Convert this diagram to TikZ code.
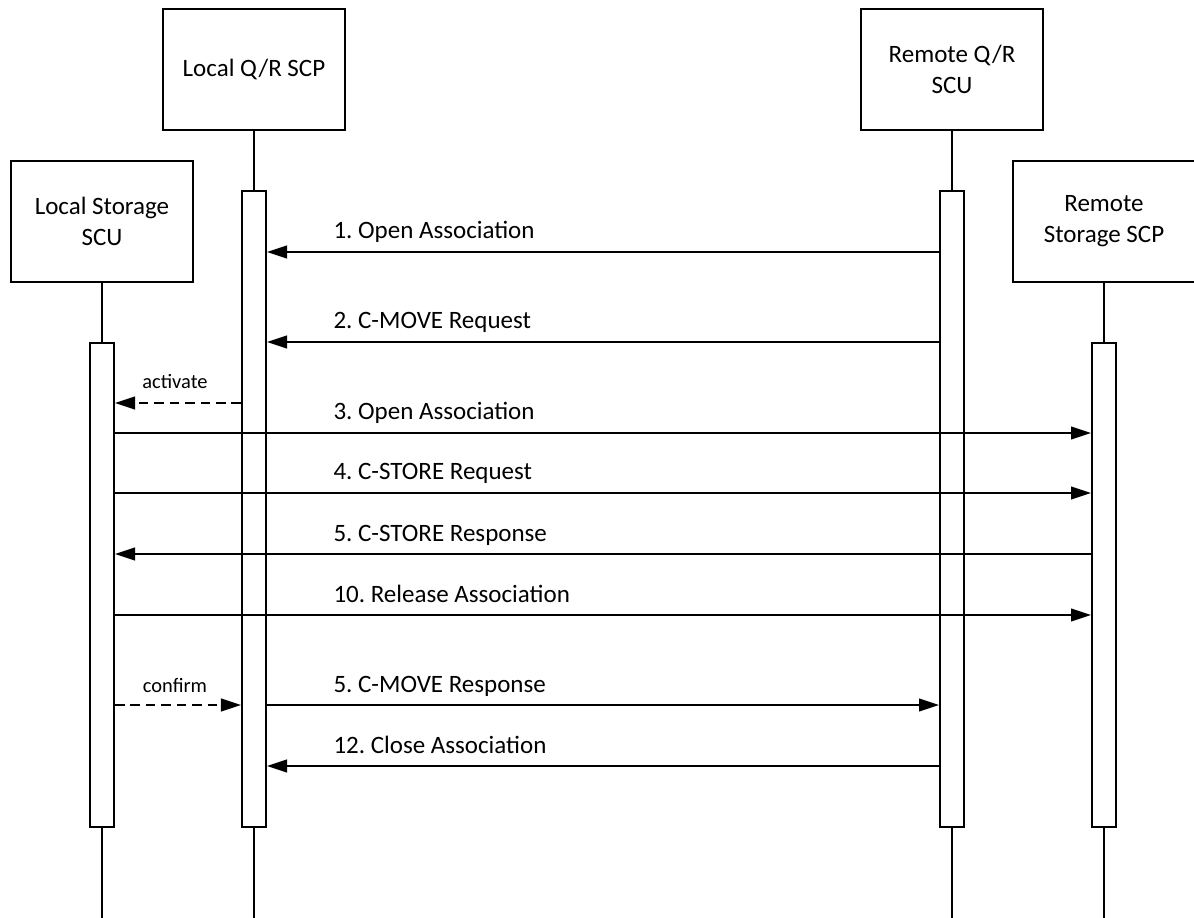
\documentclass[tikz,border=0pt]{standalone}
\usepackage{fontspec}
\setmainfont{Carlito}
\usetikzlibrary{arrows.meta, positioning}
\frenchspacing

\begin{document}
\begin{tikzpicture}[x=0.44pt, y=-0.44pt, line width=0.85pt,
    actor/.style={draw=black, rectangle, align=center, minimum width=80.1pt, minimum height=53.2pt, font=\fontsize{11}{13.6}\selectfont},
    bar/.style={draw=black, fill=white, rectangle, minimum width=10.6pt, inner sep=0pt, anchor=north},
    msg/.style={black, -{Triangle[length=8.8pt, width=5.6pt]}},
    note/.style={black, dash pattern=on 4.2pt off 2.6pt, -{Triangle[length=8.8pt, width=5.6pt]}},
    lbl/.style={anchor=base west, font=\fontsize{11}{13.6}\selectfont},
    small/.style={anchor=base, font=\fontsize{9}{11}\selectfont}]
\useasboundingbox (0,0) rectangle (1194,918);

% participants
\node[actor] (lqr) at (254,69.5) {Local Q/R SCP};
\node[actor] (rqr) at (952,69.5) {Remote Q/R\\SCU};
\node[actor] (lst) at (102,221.5) {Local Storage\\SCU};
\node[actor] (rst) at (1104,221.5) {Remote\\Storage SCP};

% lifelines
\coordinate (lqrend) at (254,918);
\coordinate (rqrend) at (952,918);
\coordinate (lstend) at (102,918);
\coordinate (rstend) at (1104,918);
\draw[black] (lqr.south) -- (lqrend);
\draw[black] (rqr.south) -- (rqrend);
\draw[black] (lst.south) -- (lstend);
\draw[black] (rst.south) -- (rstend);

% activation bars
\node[bar, minimum height=279.8pt] (lqrbar) at (254,190) {};
\node[bar, minimum height=279.8pt] (rqrbar) at (952,190) {};
\node[bar, minimum height=213.0pt] (lstbar) at (102,342) {};
\node[bar, minimum height=213.0pt] (rstbar) at (1104,342) {};

% messages
\draw[msg] (rqrbar.west |- 0,252) -- (lqrbar.east |- 0,252);
\node[lbl] (m1) at (325,239) {1. Open Association};

\draw[msg] (rqrbar.west |- 0,342) -- (lqrbar.east |- 0,342);
\node[lbl] (m2) at (325,329) {2. C-MOVE Request};

\draw[note] (lqrbar.west |- 0,403) -- (lstbar.east |- 0,403);
\node[small] (act) at (175,389) {activate};

\draw[msg] (lstbar.east |- 0,433) -- (rstbar.west |- 0,433);
\node[lbl] (m3) at (325,420) {3. Open Association};

\draw[msg] (lstbar.east |- 0,493) -- (rstbar.west |- 0,493);
\node[lbl] (m4) at (325,480) {4. C-STORE Request};

\draw[msg] (rstbar.west |- 0,554) -- (lstbar.east |- 0,554);
\node[lbl] (m5) at (325,541) {5. C-STORE Response};

\draw[msg] (lstbar.east |- 0,615) -- (rstbar.west |- 0,615);
\node[lbl] (m10) at (325,602) {10. Release Association};

\draw[note] (lstbar.east |- 0,705) -- (lqrbar.west |- 0,705);
\node[small] (conf) at (175,692) {confirm};

\draw[msg] (lqrbar.east |- 0,705) -- (rqrbar.west |- 0,705);
\node[lbl] (m11) at (325,692) {5. C-MOVE Response};

\draw[msg] (rqrbar.west |- 0,766) -- (lqrbar.east |- 0,766);
\node[lbl] (m12) at (325,753) {12. Close Association};

\end{tikzpicture}
\end{document}
